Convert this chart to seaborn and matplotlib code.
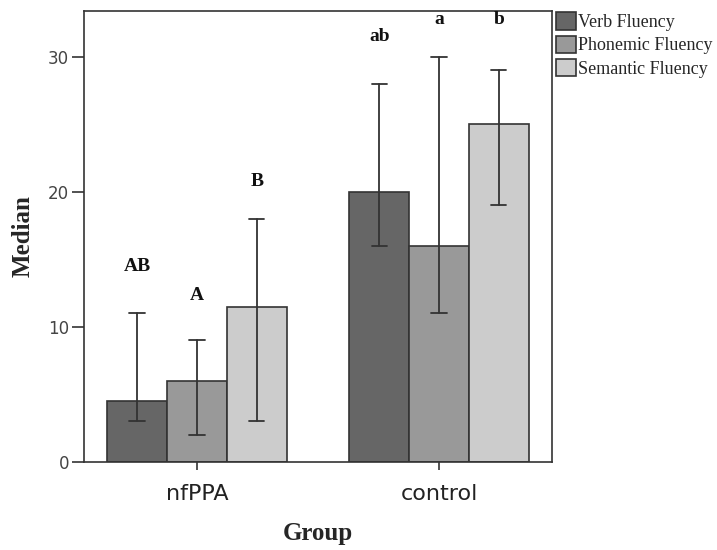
import pandas as pd
import numpy as np
import matplotlib.pyplot as plt
import seaborn as sns

# values
groups = ['nfPPA', 'control']
measures = ['Verb Fluency', 'Phonemic Fluency', 'Semantic Fluency']
medians = {'Verb Fluency': [4.5, 20],
           'Phonemic Fluency': [6, 16],
           'Semantic Fluency': [11.5, 25]}
err_low = {'Verb Fluency': [3, 16],
           'Phonemic Fluency': [2, 11],
           'Semantic Fluency': [3, 19]}
err_high = {'Verb Fluency': [11, 28],
            'Phonemic Fluency': [9, 30],
            'Semantic Fluency': [18, 29]}
letters = {'Verb Fluency': ['AB', 'ab'],
           'Phonemic Fluency': ['A', 'a'],
           'Semantic Fluency': ['B', 'b']}
letter_y = {'Verb Fluency': [14.5, 31.5],
            'Phonemic Fluency': [12.3, 32.8],
            'Semantic Fluency': [20.8, 32.8]}
colors = ['#666666', '#999999', '#cccccc']

rows = []
for m in measures:
    for g, v in zip(groups, medians[m]):
        rows.append({'Group': g, 'Measure': m, 'Median': v})
df = pd.DataFrame(rows)

sns.set_style('white')
plt.rcParams['font.family'] = ['Liberation Serif', 'DejaVu Serif']

fig = plt.figure(figsize=(7.17, 5.5), dpi=100)
ax = fig.add_axes([0.117, 0.16, 0.653, 0.82])

sns.barplot(data=df, x='Group', y='Median', hue='Measure', order=groups,
            hue_order=measures, palette=colors, width=0.74, gap=0,
            edgecolor='#333333', linewidth=1.2, errorbar=None, ax=ax,
            legend=False)

for cont, m in zip(ax.containers, measures):
    for bar, lo, hi, lab, ly in zip(cont, err_low[m], err_high[m], letters[m], letter_y[m]):
        xc = bar.get_x() + bar.get_width() / 2
        ax.plot([xc, xc], [lo, hi], color='#333333', lw=1.3, zorder=4)
        ax.plot([xc - 0.032, xc + 0.032], [lo, lo], color='#333333', lw=1.3, zorder=4)
        ax.plot([xc - 0.032, xc + 0.032], [hi, hi], color='#333333', lw=1.3, zorder=4)
        ax.text(xc, ly, lab, ha='center', va='center', fontsize=14,
                fontweight='bold', color='#111111')

ax.set_xlim(-0.467, 1.467)
ax.set_ylim(0, 33.4)
ax.set_yticks([0, 10, 20, 30])
for s in ax.spines.values():
    s.set_color('#333333')
    s.set_linewidth(1.2)
    s.set_visible(True)
ax.tick_params(axis='y', direction='out', length=8.5, width=1.2, color='#333333',
               labelsize=12, labelcolor='#444444', left=True, pad=2)
ax.tick_params(axis='x', direction='out', length=6, width=1.2, color='#333333',
               labelsize=16, labelcolor='#222222', bottom=True, pad=10)
for t in ax.get_yticklabels():
    t.set_family('DejaVu Sans')
for t in ax.get_xticklabels():
    t.set_family('DejaVu Sans')

ax.set_xlabel('Group', fontsize=18, fontweight='bold', labelpad=13)
ax.set_ylabel('Median', fontsize=18, fontweight='bold', labelpad=10)

handles = [plt.Rectangle((0, 0), 1, 1, facecolor=c, edgecolor='#333333', lw=1.2)
           for c in colors]
ax.legend(handles, measures, loc='upper left', bbox_to_anchor=(1.0, 1.005),
          frameon=False, fontsize=13, handlelength=1.1, handleheight=1.1,
          handletextpad=0.15, labelspacing=0.25, borderaxespad=0.1,
          borderpad=0.1)

fig.savefig('out.png', dpi=100)
